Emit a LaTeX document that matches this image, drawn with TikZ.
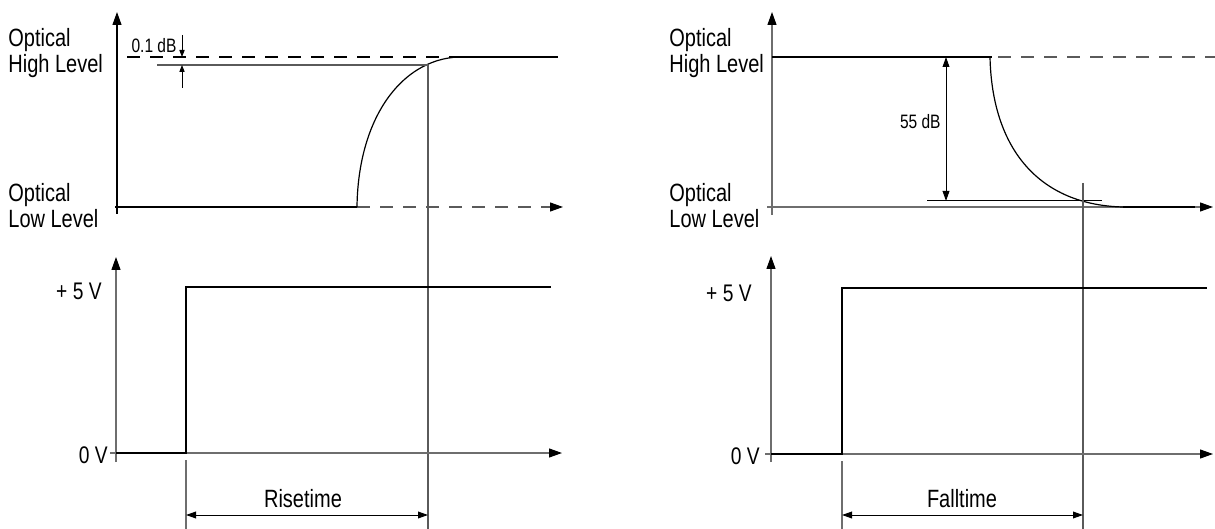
\documentclass[tikz,border=0pt]{standalone}
\usepackage{fontspec}
\setmainfont{Liberation Sans}[FakeStretch=0.8]
\usepackage{tikz}
\usetikzlibrary{arrows.meta}
\definecolor{axisgray}{HTML}{6E6E6E}
\definecolor{tracegray}{HTML}{5A5A5A}
\tikzset{
    axis/.style={
        draw=axisgray,
        line width=0.6pt,
        -{Triangle[length=6.5pt,width=4.5pt,black]}
    },
    plainaxis/.style={
        draw=axisgray,
        line width=0.6pt
    },
    signal/.style={
        draw=black,
        line width=1.2pt
    },
    curve/.style={
        draw=black,
        line width=0.6pt
    },
    levelline/.style={
        draw=tracegray,
        line width=0.6pt
    },
    refdash/.style={
        draw=tracegray,
        line width=0.6pt,
        dash pattern=on 6.5pt off 5pt
    },
    dimline/.style={
        draw=black,
        line width=0.5pt,
        {Triangle[length=5pt,width=3.4pt]}-{Triangle[length=5pt,width=3.4pt]}
    },
    tinyarrow/.style={
        draw=black,
        line width=0.5pt,
        -{Triangle[length=3.5pt,width=2.6pt]}
    },
    levellabel/.style={
        anchor=west,
        align=left,
        inner sep=0pt,
        font=\fontsize{12.5}{13}\selectfont
    },
    voltlabel/.style={
        anchor=east,
        inner sep=1pt,
        font=\fontsize{12}{13}\selectfont
    },
    timelabel/.style={
        inner sep=0pt,
        font=\fontsize{12.5}{13}\selectfont
    },
    dblabel/.style={
        inner sep=1pt,
        font=\fontsize{9.7}{11}\selectfont
    }
}

\begin{document}
\begin{tikzpicture}[x=0.5pt, y=-0.5pt]
    \useasboundingbox (0,0) rectangle (1215,529);

    % --- rise: optical output ---
    \coordinate (rstart) at (357,207);
    \coordinate (rend) at (458,57);
    \coordinate (rcross) at (428,65);
    \draw[plainaxis, draw=black, -{Triangle[length=6.5pt,width=4.5pt]}] (117,214) -- (117,12);
    \draw[signal] (115,207) -- (rstart);
    \draw[refdash, -{Triangle[length=6.5pt,width=4.5pt,black]}] (rstart) -- (563,207);
    \draw[curve] (rstart) .. controls (358,120) and (400,60) .. (rend);
    \draw[signal] (rend) -- (558,57);
    \draw[refdash, draw=black] (127,57) -- (rend);
    \draw[levelline] (157,65) -- (rcross);
    \draw[levelline] (rcross) -- (428,529);
    \draw[tinyarrow] (182,35) -- (182,57);
    \draw[tinyarrow] (182,88) -- (182,65);
    \node[dblabel, inner sep=0pt] (dbsmall) at (154,46) {0.1 dB};
    \node[levellabel] (hiL) at (8,53) {Optical\\High Level};
    \node[levellabel] (loL) at (8,206) {Optical\\Low Level};

    % --- rise: electrical input ---
    \draw[axis] (116,462) -- (116,257);
    \draw[axis] (110,453) -- (562,453);
    \draw[signal] (116,453) -- (186,453) -- (186,287) -- (551,287);
    \node[voltlabel] (fiveL) at (104,291) {+ 5 V};
    \node[voltlabel] (zeroL) at (110,455) {0 V};
    \draw[plainaxis] (186,460) -- (186,529);
    \draw[dimline] (186,515) -- (428,515);
    \node[timelabel] (rise) at (303,499) {Risetime};

    % --- fall: optical output ---
    \coordinate (fstart) at (990,57);
    \coordinate (fend) at (1123,207);
    \draw[axis] (772,215) -- (772,12);
    \draw[axis] (767,207) -- (1213,207);
    \draw[signal] (772,57) -- (992,57);
    \draw[refdash] (998,57) -- (1215,57);
    \draw[curve] (fstart) .. controls (992,150) and (1040,205) .. (fend);
    \draw[signal] (fend) -- (1195,207);
    \draw[curve, line width=0.5pt] (927,201) -- (1102,201);
    \draw[dimline] (946,57) -- (946,201);
    \node[dblabel, anchor=east] (dbbig) at (943,122) {55 dB};
    \draw[levelline] (1083,183) -- (1083,529);
    \node[levellabel] (hiR) at (669,53) {Optical\\High Level};
    \node[levellabel] (loR) at (669,206) {Optical\\Low Level};

    % --- fall: electrical input ---
    \draw[axis] (771,462) -- (771,256);
    \draw[axis] (765,454) -- (1213,454);
    \draw[signal] (771,454) -- (842,454) -- (842,288) -- (1207,288);
    \node[voltlabel] (fiveR) at (754,293) {+ 5 V};
    \node[voltlabel] (zeroR) at (762,456) {0 V};
    \draw[plainaxis] (842,461) -- (842,529);
    \draw[dimline] (842,515) -- (1083,515);
    \node[timelabel] (fall) at (962,499) {Falltime};
\end{tikzpicture}
\end{document}
